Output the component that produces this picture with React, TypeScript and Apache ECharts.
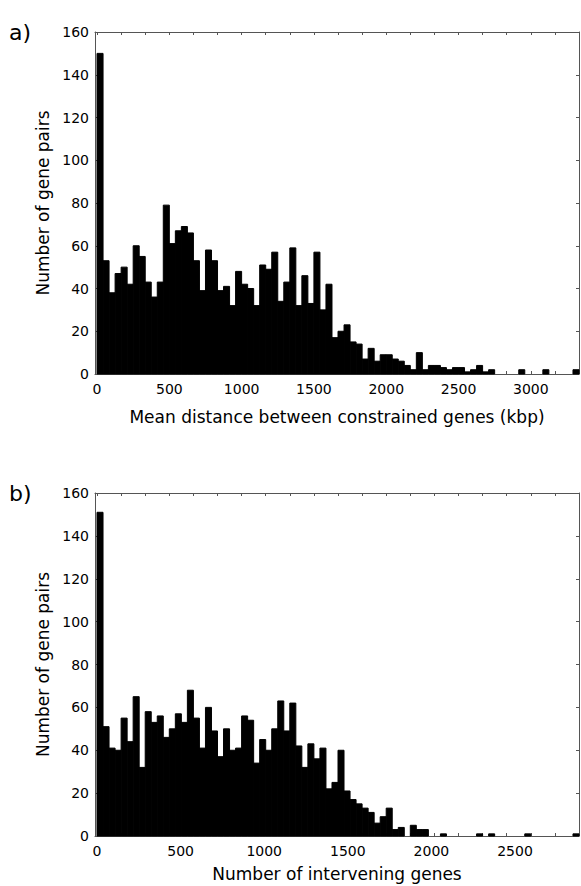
import React, { useEffect, useRef } from "react";
import * as echarts from "echarts";

// Panel a: mean distance between constrained genes (kbp), 80 bins
const distanceMax = 3333;
const distanceMin = -14;
const distanceCounts = [
  150, 53, 38, 47, 50, 42, 60, 55, 43, 36,
  43, 79, 61, 67, 69, 66, 53, 39, 58, 53,
  39, 41, 32, 48, 42, 40, 32, 51, 49, 57,
  34, 43, 59, 32, 46, 33, 57, 30, 42, 17,
  20, 23, 15, 14, 7, 12, 6, 9, 9, 7,
  6, 4, 2, 10, 2, 4, 4, 3, 2, 3,
  3, 1, 2, 4, 1, 2, 0, 0, 0, 0,
  2, 0, 0, 0, 2, 0, 0, 0, 0, 2,
];
const distanceLabels = [0, 500, 1000, 1500, 2000, 2500, 3000];

// Panel b: number of intervening genes, 80 bins
const interveningMax = 2883;
const interveningMin = -12;
const interveningCounts = [
  151, 51, 41, 40, 55, 44, 65, 32, 58, 53,
  56, 46, 50, 57, 53, 68, 55, 41, 60, 49,
  37, 50, 40, 41, 56, 54, 34, 45, 40, 50,
  63, 49, 62, 42, 32, 43, 36, 41, 22, 25,
  40, 21, 17, 15, 13, 11, 6, 9, 13, 3,
  4, 0, 5, 3, 3, 0, 0, 1, 0, 0,
  0, 0, 0, 1, 0, 1, 0, 0, 0, 0,
  0, 1, 0, 0, 0, 0, 0, 0, 0, 1,
];
const interveningLabels = [0, 500, 1000, 1500, 2000, 2500];

const yTicks = [0, 20, 40, 60, 80, 100, 120, 140, 160];

const FONT = "DejaVu Sans";
const AXIS_COLOR = "#555";

function binsOf(counts: number[], max: number) {
  const w = max / counts.length;
  return counts.map((c, i) => [i * w, (i + 1) * w, c]);
}

function minorTicks(max: number) {
  const out: number[] = [];
  for (let k = 0; k <= 20; k++) out.push((k * max) / 20);
  return out;
}

export default function App() {
  const ref = useRef<HTMLDivElement>(null);
  useEffect(() => {
    if (!ref.current) return;
    const chart = echarts.init(ref.current, null, { renderer: "svg" });

    const grids = [
      { left: 95, top: 32, width: 484, height: 342 },
      { left: 95, top: 493, width: 484, height: 343 },
    ];
    const panels = [
      {
        min: distanceMin,
        max: distanceMax,
        labels: distanceLabels,
        name: "Mean distance between constrained genes (kbp)",
        nameGap: 34,
        data: binsOf(distanceCounts, distanceMax),
      },
      {
        min: interveningMin,
        max: interveningMax,
        labels: interveningLabels,
        name: "Number of intervening genes",
        nameGap: 29,
        data: binsOf(interveningCounts, interveningMax),
      },
    ];

    const plain = (v: number) => String(Math.round(v));

    const xAxis: any[] = [];
    const yAxis: any[] = [];
    const series: any[] = [];
    panels.forEach((p, i) => {
      const ticks = minorTicks(p.max);
      xAxis.push({
        type: "value",
        gridIndex: i,
        position: "bottom",
        min: p.min,
        max: p.max,
        name: p.name,
        nameLocation: "middle",
        nameGap: p.nameGap,
        nameTextStyle: { fontFamily: FONT, fontSize: 17, color: "#000" },
        axisLine: { show: true, onZero: false, lineStyle: { color: AXIS_COLOR, width: 1 } },
        axisTick: { show: true, inside: true, length: 3, customValues: ticks, lineStyle: { color: AXIS_COLOR } },
        axisLabel: { show: true, customValues: p.labels, formatter: plain, margin: 8, fontFamily: FONT, fontSize: 14, color: "#000" },
        splitLine: { show: false },
      });
      xAxis.push({
        type: "value",
        gridIndex: i,
        position: "top",
        min: p.min,
        max: p.max,
        axisLine: { show: true, onZero: false, lineStyle: { color: AXIS_COLOR, width: 1 } },
        axisTick: { show: true, inside: true, length: 3, customValues: ticks, lineStyle: { color: AXIS_COLOR } },
        axisLabel: { show: false },
        splitLine: { show: false },
      });
      yAxis.push({
        type: "value",
        gridIndex: i,
        position: "left",
        min: 0,
        max: 160,
        interval: 20,
        name: "Number of gene pairs",
        nameLocation: "middle",
        nameGap: 39,
        nameRotate: 90,
        nameTextStyle: { fontFamily: FONT, fontSize: 17, color: "#000" },
        axisLine: { show: true, onZero: false, lineStyle: { color: AXIS_COLOR, width: 1 } },
        axisTick: { show: true, inside: true, length: 3, customValues: yTicks, lineStyle: { color: AXIS_COLOR } },
        axisLabel: { show: true, formatter: plain, margin: 6, fontFamily: FONT, fontSize: 14, color: "#000" },
        splitLine: { show: false },
      });
      yAxis.push({
        type: "value",
        gridIndex: i,
        position: "right",
        min: 0,
        max: 160,
        interval: 20,
        axisLine: { show: true, onZero: false, lineStyle: { color: AXIS_COLOR, width: 1 } },
        axisTick: { show: true, inside: true, length: 3, lineStyle: { color: AXIS_COLOR } },
        axisLabel: { show: false },
        splitLine: { show: false },
      });
      series.push({
        type: "custom",
        xAxisIndex: i * 2,
        yAxisIndex: i * 2,
        data: p.data,
        encode: { x: [0, 1], y: 2 },
        renderItem: (params: any, api: any) => {
          const x0 = api.value(0);
          const x1 = api.value(1);
          const v = api.value(2);
          if (!v) return null;
          const a = api.coord([x0, 0]);
          const b = api.coord([x1, v]);
          return {
            type: "rect",
            shape: { x: a[0], y: b[1], width: b[0] - a[0], height: a[1] - b[1] },
            style: { fill: "#000", stroke: "#000", lineWidth: 1 },
          };
        },
      });
    });

    chart.setOption({
      animation: false,
      backgroundColor: "#fff",
      grid: grids,
      xAxis,
      yAxis,
      series,
      graphic: [
        { type: "text", left: 9, top: 21, style: { text: "a)", fontFamily: FONT, fontSize: 22, fill: "#000" } },
        { type: "text", left: 9, top: 482, style: { text: "b)", fontFamily: FONT, fontSize: 22, fill: "#000" } },
      ],
    });
    return () => chart.dispose();
  }, []);
  return (
    <div
      ref={ref}
      style={{ position: "fixed", left: 0, top: 0, width: 581, height: 886, background: "#fff" }}
    />
  );
}
